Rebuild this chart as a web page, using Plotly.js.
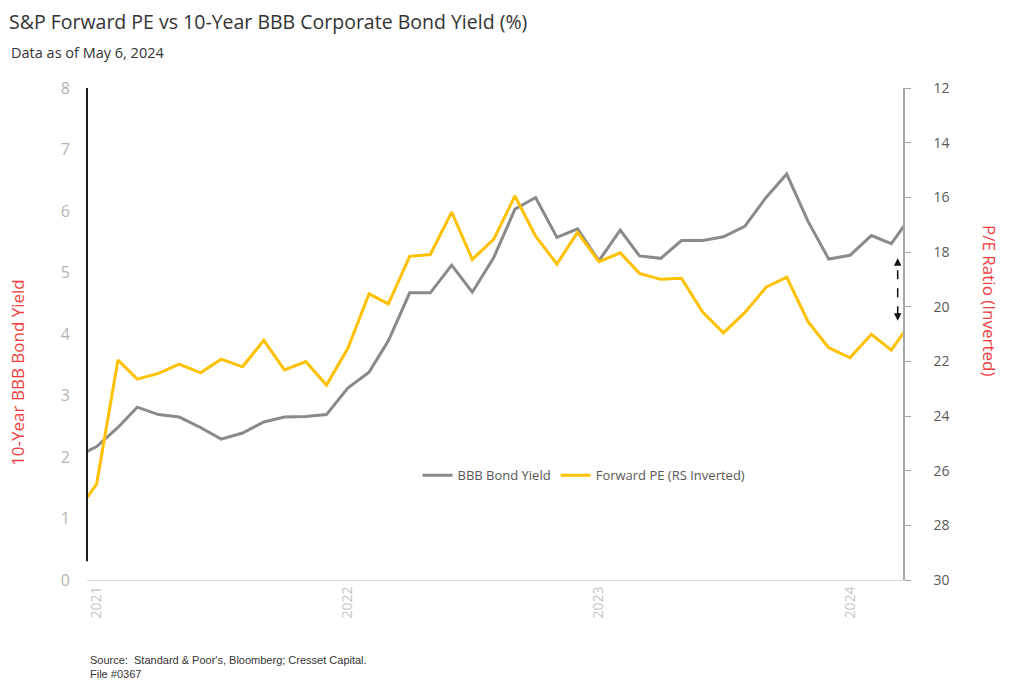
<!DOCTYPE html>
<html>
<head>
<meta charset="utf-8">
<script src="https://cdn.plot.ly/plotly-3.0.1.min.js"></script>
<style>
  html, body { margin: 0; padding: 0; background: #ffffff; }
  #chart { width: 1024px; height: 697px; }
</style>
</head>
<body>
<div id="chart"></div>
<script>
// ---- Data (monthly) ----
const dates = [
  "2020-12-01",
  "2021-01-01","2021-02-01","2021-03-01","2021-04-01","2021-05-01","2021-06-01",
  "2021-07-01","2021-08-01","2021-09-01","2021-10-01","2021-11-01","2021-12-01",
  "2022-01-01","2022-02-01","2022-03-01","2022-04-01","2022-05-01","2022-06-01",
  "2022-07-01","2022-08-01","2022-09-01","2022-10-01","2022-11-01","2022-12-01",
  "2023-01-01","2023-02-01","2023-03-01","2023-04-01","2023-05-01","2023-06-01",
  "2023-07-01","2023-08-01","2023-09-01","2023-10-01","2023-11-01","2023-12-01",
  "2024-01-01","2024-02-01","2024-03-01","2024-04-01"
];

const bbbBondYield = [
  1.99,
  2.17, 2.48, 2.81, 2.69, 2.65, 2.48, 2.29, 2.39, 2.57, 2.65, 2.66, 2.69,
  3.12, 3.38, 3.89, 4.67, 4.67, 5.12, 4.68, 5.24, 6.03, 6.22, 5.57, 5.71,
  5.19, 5.69, 5.27, 5.23, 5.52, 5.52, 5.58, 5.75, 6.22, 6.60, 5.83, 5.22,
  5.28, 5.60, 5.47, 5.95
];

const forwardPE = [
  27.58,
  26.49, 21.95, 22.65, 22.44, 22.10, 22.42, 21.92, 22.20, 21.23, 22.31, 22.01, 22.87,
  21.53, 19.53, 19.90, 18.16, 18.09, 16.54, 18.27, 17.54, 15.95, 17.42, 18.44, 17.28,
  18.35, 18.03, 18.78, 19.00, 18.96, 20.21, 20.96, 20.22, 19.29, 18.92, 20.55, 21.50,
  21.87, 21.01, 21.59, 20.49
];

const seriesNames = ["BBB Bond Yield", "Forward PE (RS Inverted)"];
const leftTicks = [0, 1, 2, 3, 4, 5, 6, 7, 8];
const rightTicks = [12, 14, 16, 18, 20, 22, 24, 26, 28, 30];

const FONT = "Open Sans, Lato, sans-serif";
const NARROW = "Liberation Sans Narrow, Arial Narrow, sans-serif";

const traces = [
  {
    x: dates, y: bbbBondYield, name: seriesNames[0],
    type: "scatter", mode: "lines", yaxis: "y",
    line: { color: "#8a8a8a", width: 3 }
  },
  {
    x: dates, y: forwardPE, name: seriesNames[1],
    type: "scatter", mode: "lines", yaxis: "y2",
    line: { color: "#ffc000", width: 3 }
  }
];

const layout = {
  width: 1024, height: 697,
  margin: { l: 87, r: 121, t: 88, b: 117 },
  paper_bgcolor: "#ffffff",
  plot_bgcolor: "#ffffff",
  font: { family: FONT, color: "#404040" },
  title: {
    text: "S&P Forward PE vs 10-Year BBB Corporate Bond Yield (%)",
    font: { family: FONT, size: 19.5, color: "#333333" },
    xref: "container", yref: "container",
    x: 9 / 1024, xanchor: "left",
    y: 1 - 22 / 697, yanchor: "middle"
  },
  xaxis: {
    type: "date",
    range: ["2020-12-18", "2024-03-18"],
    tick0: "2021-01-01", dtick: "M12",
    tickformat: "%Y",
    tickangle: -90,
    tickfont: { family: FONT, size: 14, color: "#c4c4c4" },
    showgrid: false, zeroline: false,
    showline: true, linecolor: "#dcdcdc", linewidth: 1,
    ticks: ""
  },
  yaxis: {
    range: [0, 8],
    tickvals: leftTicks,
    tickfont: { family: FONT, size: 16, color: "#b3b3b3" },
    showgrid: false, zeroline: false, showline: false,
    ticks: "", ticklabelstandoff: 16
  },
  yaxis2: {
    overlaying: "y", side: "right",
    range: [30, 12],
    tickvals: rightTicks,
    tickfont: { family: FONT, size: 14, color: "#595959" },
    showgrid: false, zeroline: false,
    showline: true, linecolor: "#a6a6a6", linewidth: 1.5,
    ticks: "outside", ticklen: 6, tickcolor: "#a6a6a6", tickwidth: 1,
    ticklabelstandoff: 20
  },
  showlegend: true,
  legend: {
    orientation: "h",
    x: 0.405, xanchor: "left",
    y: 0.213, yanchor: "middle",
    font: { family: FONT, size: 13, color: "#595959" },
    bgcolor: "rgba(255,255,255,0)",
    itemwidth: 30
  },
  shapes: [
    // black vertical bar at left edge
    { type: "line", xref: "paper", yref: "paper",
      x0: 0, x1: 0, y0: 0.038, y1: 1.0,
      line: { color: "#1a1a1a", width: 2 } },
    // dashed gap indicator
    { type: "line", xref: "paper", yref: "paper",
      x0: 0.9935, x1: 0.9935, y0: 0.538, y1: 0.644,
      line: { color: "#111111", width: 1.5, dash: "dash" } }
  ],
  annotations: [
    { text: "Data as of May 6, 2024", xref: "paper", yref: "paper",
      x: -0.0962, y: 1.073, xanchor: "left", yanchor: "middle",
      showarrow: false, font: { family: FONT, size: 14.5, color: "#333333" } },
    { text: "10-Year BBB Bond Yield", xref: "paper", yref: "paper",
      x: -0.0846, y: 0.423, xanchor: "center", yanchor: "middle",
      textangle: -90, showarrow: false,
      font: { family: FONT, size: 17, color: "#f03c3c" } },
    { text: "P/E Ratio (Inverted)", xref: "paper", yref: "paper",
      x: 1.1066, y: 0.567, xanchor: "center", yanchor: "middle",
      textangle: 90, showarrow: false,
      font: { family: FONT, size: 17, color: "#f03c3c" } },
    { text: "Source:  Standard & Poor's, Bloomberg; Cresset Capital.", xref: "paper", yref: "paper",
      x: 0.001, y: -0.163, xanchor: "left", yanchor: "middle",
      showarrow: false, font: { family: NARROW, size: 11, color: "#333333" } },
    { text: "File #0367", xref: "paper", yref: "paper",
      x: 0.001, y: -0.191, xanchor: "left", yanchor: "middle",
      showarrow: false, font: { family: NARROW, size: 11, color: "#333333" } },
    // arrow heads of the gap indicator
    { text: "", xref: "paper", yref: "paper", x: 0.9935, y: 0.654,
      showarrow: true, arrowhead: 2, arrowsize: 1, arrowwidth: 1.5, arrowcolor: "#111111",
      ax: 0, ay: 7 },
    { text: "", xref: "paper", yref: "paper", x: 0.9935, y: 0.527,
      showarrow: true, arrowhead: 2, arrowsize: 1, arrowwidth: 1.5, arrowcolor: "#111111",
      ax: 0, ay: -7 }
  ]
};

Plotly.newPlot("chart", traces, layout, { displayModeBar: false, responsive: false });
</script>
</body>
</html>
